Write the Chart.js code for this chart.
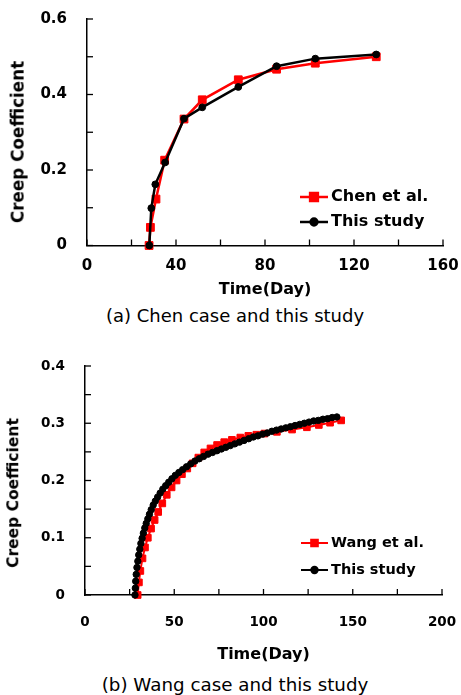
<!DOCTYPE html>
<html>
<head>
<meta charset="utf-8">
<script src="https://cdn.jsdelivr.net/npm/chart.js@4.4.1/dist/chart.umd.min.js"></script>
<style>
  body { margin: 0; width: 461px; height: 695px; background: #fff; position: relative; overflow: hidden; font-family: "DejaVu Sans", sans-serif; color: #000; }
  .box { position: absolute; left: 0; width: 461px; }
  .ytitle { position: absolute; font-weight: bold; line-height: 1; white-space: nowrap; transform: translate(-50%, -50%) rotate(-90deg); }
  .caption { position: absolute; line-height: 1; white-space: nowrap; transform: translate(-50%, -50%); }
</style>
</head>
<body>
<div class="box" style="top:0;height:300px"><canvas id="chartA"></canvas></div>
<div class="ytitle" style="left:18px;top:142px;font-size:16.8px">Creep Coefficient</div>
<div class="caption" style="left:235px;top:316px;font-size:18px">(a) Chen case and this study</div>

<div class="box" style="top:340px;height:324px"><canvas id="chartB"></canvas></div>
<div class="ytitle" style="left:14px;top:493px;font-size:15.5px">Creep Coefficient</div>
<div class="caption" style="left:235px;top:685px;font-size:18.3px">(b) Wang case and this study</div>

<script>
// (a) Chen case
const chenDays = [27.9, 28.5, 31.0, 34.9, 43.6, 51.8, 68.0, 85.2, 102.6, 130.0];
const chenCoef = [0, 0.048, 0.123, 0.226, 0.335, 0.386, 0.439, 0.467, 0.483, 0.500];
const studyADays = [28.0, 28.9, 30.7, 35.1, 43.6, 51.8, 68.0, 85.2, 102.6, 130.0];
const studyACoef = [0, 0.099, 0.162, 0.220, 0.336, 0.366, 0.420, 0.475, 0.495, 0.506];
const xLabelsA = [0, 40, 80, 120, 160];
const yLabelsA = [0, 0.2, 0.4, 0.6];

// (b) Wang case
const wangDays = [29.5, 30.2, 31.0, 32.2, 33.6, 35.2, 37.0, 39.0, 41.0, 43.3, 45.8, 48.5, 51.3, 54.3, 57.3,
  60.3, 63.5, 66.8, 70.3, 74.0, 78.0, 82.3, 87.0, 91.5, 96.0, 100.5, 107.5, 116.0, 124.3, 131.0, 137.3, 143.5];
const wangCoef = [0, 0.022, 0.042, 0.064, 0.083, 0.100, 0.116, 0.131, 0.145, 0.160, 0.175, 0.188, 0.200, 0.211, 0.221,
  0.230, 0.240, 0.249, 0.256, 0.262, 0.267, 0.271, 0.275, 0.278, 0.280, 0.282, 0.285, 0.289, 0.293, 0.297, 0.301, 0.305];
const studyBDays = [28.0, 28.2, 28.4, 28.7, 29.1, 29.6, 30.1, 30.7, 31.3, 32.0, 32.7, 33.5, 34.3, 35.2, 36.1,
  37.1, 38.2, 39.4, 40.7, 42.1, 43.6, 45.2, 46.9, 48.7, 50.6, 52.6, 54.7, 56.9, 59.2, 61.6,
  64.0, 66.4, 68.9, 71.4, 73.9, 76.4, 78.9, 81.4, 83.9, 86.5, 89.1, 91.7, 94.3, 96.9, 99.5,
  102.1, 104.7, 107.3, 109.9, 112.5, 115.1, 117.7, 120.3, 122.9, 125.5, 128.1, 130.7, 133.3, 135.9, 138.5, 141.1];
const studyBCoef = [0, 0.012, 0.024, 0.036, 0.048, 0.059, 0.070, 0.080, 0.090, 0.099, 0.108, 0.117, 0.125, 0.133, 0.141,
  0.149, 0.157, 0.164, 0.171, 0.178, 0.185, 0.191, 0.197, 0.203, 0.209, 0.214, 0.219, 0.224, 0.229, 0.234,
  0.238, 0.242, 0.246, 0.249, 0.252, 0.255, 0.258, 0.261, 0.264, 0.267, 0.270, 0.273, 0.276, 0.278, 0.281,
  0.283, 0.286, 0.288, 0.290, 0.292, 0.294, 0.296, 0.298, 0.300, 0.302, 0.304, 0.305, 0.307, 0.308, 0.310, 0.311];
const xLabelsB = [0, 50, 100, 150, 200];
const yLabelsB = [0, 0.1, 0.2, 0.3, 0.4];

const FONT = '"DejaVu Sans", sans-serif';

function pts(xs, ys) {
  return xs.map((x, i) => ({ x: x, y: ys[i] }));
}

function hasLabel(list, v) {
  return list.some(l => Math.abs(l - v) < 1e-6);
}

// drop the label overflow padding so layout.padding alone sets the plot box
function noScalePadding(s) {
  s.paddingTop = 0;
  s.paddingBottom = 0;
  s.paddingLeft = 0;
  s.paddingRight = 0;
}

// tick marks pointing into the plot
const innerTicks = {
  id: 'innerTicks',
  beforeDatasetsDraw(chart, args, opts) {
    const { ctx, chartArea, scales } = chart;
    ctx.save();
    ctx.strokeStyle = '#000';
    ctx.lineWidth = 1.3;
    scales.x.ticks.forEach(t => {
      const px = scales.x.getPixelForValue(t.value);
      ctx.beginPath();
      ctx.moveTo(px, chartArea.bottom);
      ctx.lineTo(px, chartArea.bottom - opts.len);
      ctx.stroke();
    });
    scales.y.ticks.forEach(t => {
      const py = scales.y.getPixelForValue(t.value);
      ctx.beginPath();
      ctx.moveTo(chartArea.left, py);
      ctx.lineTo(chartArea.left + opts.len, py);
      ctx.stroke();
    });
    ctx.restore();
  }
};

// legend inside the plot, lower right
const boxLegend = {
  id: 'boxLegend',
  afterDraw(chart, args, opts) {
    const ctx = chart.ctx;
    chart.data.datasets.forEach((ds, i) => {
      const y = opts.y[i];
      ctx.save();
      ctx.strokeStyle = ds.borderColor;
      ctx.lineWidth = ds.borderWidth;
      ctx.beginPath();
      ctx.moveTo(opts.x, y);
      ctx.lineTo(opts.x + opts.len, y);
      ctx.stroke();
      ctx.fillStyle = ds.pointBackgroundColor;
      ctx.strokeStyle = ds.pointBorderColor;
      Chart.helpers.drawPoint(ctx, { pointStyle: ds.pointStyle, radius: ds.pointRadius, borderWidth: 1, rotation: 0 }, opts.x + opts.len / 2, y);
      ctx.fillStyle = '#000';
      ctx.font = 'bold ' + opts.size + 'px ' + FONT;
      ctx.textBaseline = 'middle';
      ctx.textAlign = 'left';
      ctx.fillText(ds.label, opts.x + opts.len + 3, y);
      ctx.restore();
    });
  }
};

function makeChart(id, cfg) {
  return new Chart(document.getElementById(id), {
    type: 'line',
    data: {
      datasets: [
        {
          label: cfg.refLabel,
          data: pts(cfg.refDays, cfg.refCoef),
          borderColor: '#ff0000',
          backgroundColor: '#ff0000',
          pointBackgroundColor: '#ff0000',
          pointBorderColor: '#ff0000',
          borderWidth: cfg.lineWidth,
          pointStyle: 'rect',
          pointRadius: cfg.rectR,
          pointBorderWidth: 1,
          tension: 0,
          clip: false,
          order: 1
        },
        {
          label: 'This study',
          data: pts(cfg.studyDays, cfg.studyCoef),
          borderColor: '#000000',
          backgroundColor: '#000000',
          pointBackgroundColor: '#000000',
          pointBorderColor: '#000000',
          borderWidth: cfg.lineWidth,
          pointStyle: 'circle',
          pointRadius: cfg.circR,
          pointBorderWidth: 1,
          tension: 0,
          clip: false,
          order: 0
        }
      ]
    },
    options: {
      responsive: true,
      maintainAspectRatio: false,
      animation: false,
      layout: { autoPadding: false, padding: { top: cfg.padTop, right: cfg.padRight, left: 0, bottom: 0 } },
      plugins: {
        legend: { display: false },
        tooltip: { enabled: false },
        innerTicks: { len: 6 },
        boxLegend: cfg.legend
      },
      scales: {
        x: {
          type: 'linear',
          min: cfg.xMin, max: cfg.xMax,
          afterFit: s => { s.height = cfg.xHeight; noScalePadding(s); },
          grid: { display: false, drawTicks: false },
          border: { display: true, color: '#000', width: 1.5 },
          ticks: {
            stepSize: cfg.xStep,
            autoSkip: false,
            maxRotation: 0,
            padding: cfg.xPad,
            color: '#000',
            font: { family: FONT, size: cfg.tickSize, weight: 'bold' },
            callback: v => hasLabel(cfg.xLabels, v) ? String(v) : ''
          },
          title: {
            display: true,
            text: 'Time(Day)',
            color: '#000',
            padding: { top: 0, bottom: cfg.titlePadBottom },
            font: { family: FONT, size: 16, weight: 'bold' }
          }
        },
        y: {
          min: 0, max: cfg.yMax,
          afterFit: s => { s.width = cfg.yWidth; noScalePadding(s); },
          grid: { display: false, drawTicks: false },
          border: { display: true, color: '#000', width: 1.5 },
          ticks: {
            stepSize: cfg.yStep,
            autoSkip: false,
            padding: cfg.yPad,
            color: '#000',
            font: { family: FONT, size: cfg.tickSize, weight: 'bold' },
            callback: v => hasLabel(cfg.yLabels, v) ? (Math.abs(v) < 1e-9 ? '0' : v.toFixed(1)) : ''
          }
        }
      }
    },
    plugins: [innerTicks, boxLegend]
  });
}

makeChart('chartA', {
  refLabel: 'Chen et al.',
  refDays: chenDays, refCoef: chenCoef,
  studyDays: studyADays, studyCoef: studyACoef,
  xLabels: xLabelsA, yLabels: yLabelsA,
  xMin: 0, xMax: 160, xStep: 20,
  yMax: 0.6, yStep: 0.1,
  lineWidth: 2.5, rectR: 5.5, circR: 3.4,
  padTop: 19, padRight: 18,
  xHeight: 54.5, yWidth: 87,
  xPad: 12, yPad: 20, tickSize: 15, titlePadBottom: 1,
  legend: { x: 300, len: 28, y: [197, 222], size: 16 }
});

makeChart('chartB', {
  refLabel: 'Wang et al.',
  refDays: wangDays, refCoef: wangCoef,
  studyDays: studyBDays, studyCoef: studyBCoef,
  xLabels: xLabelsB, yLabels: yLabelsB,
  xMin: 0, xMax: 200, xStep: 25,
  yMax: 0.4, yStep: 0.05,
  lineWidth: 2, rectR: 4.7, circR: 3.2,
  padTop: 26, padRight: 19,
  xHeight: 69, yWidth: 85,
  xPad: 19, yPad: 20, tickSize: 13.5, titlePadBottom: 0,
  legend: { x: 301, len: 27, y: [203, 230], size: 14.5 }
});
</script>
</body>
</html>
